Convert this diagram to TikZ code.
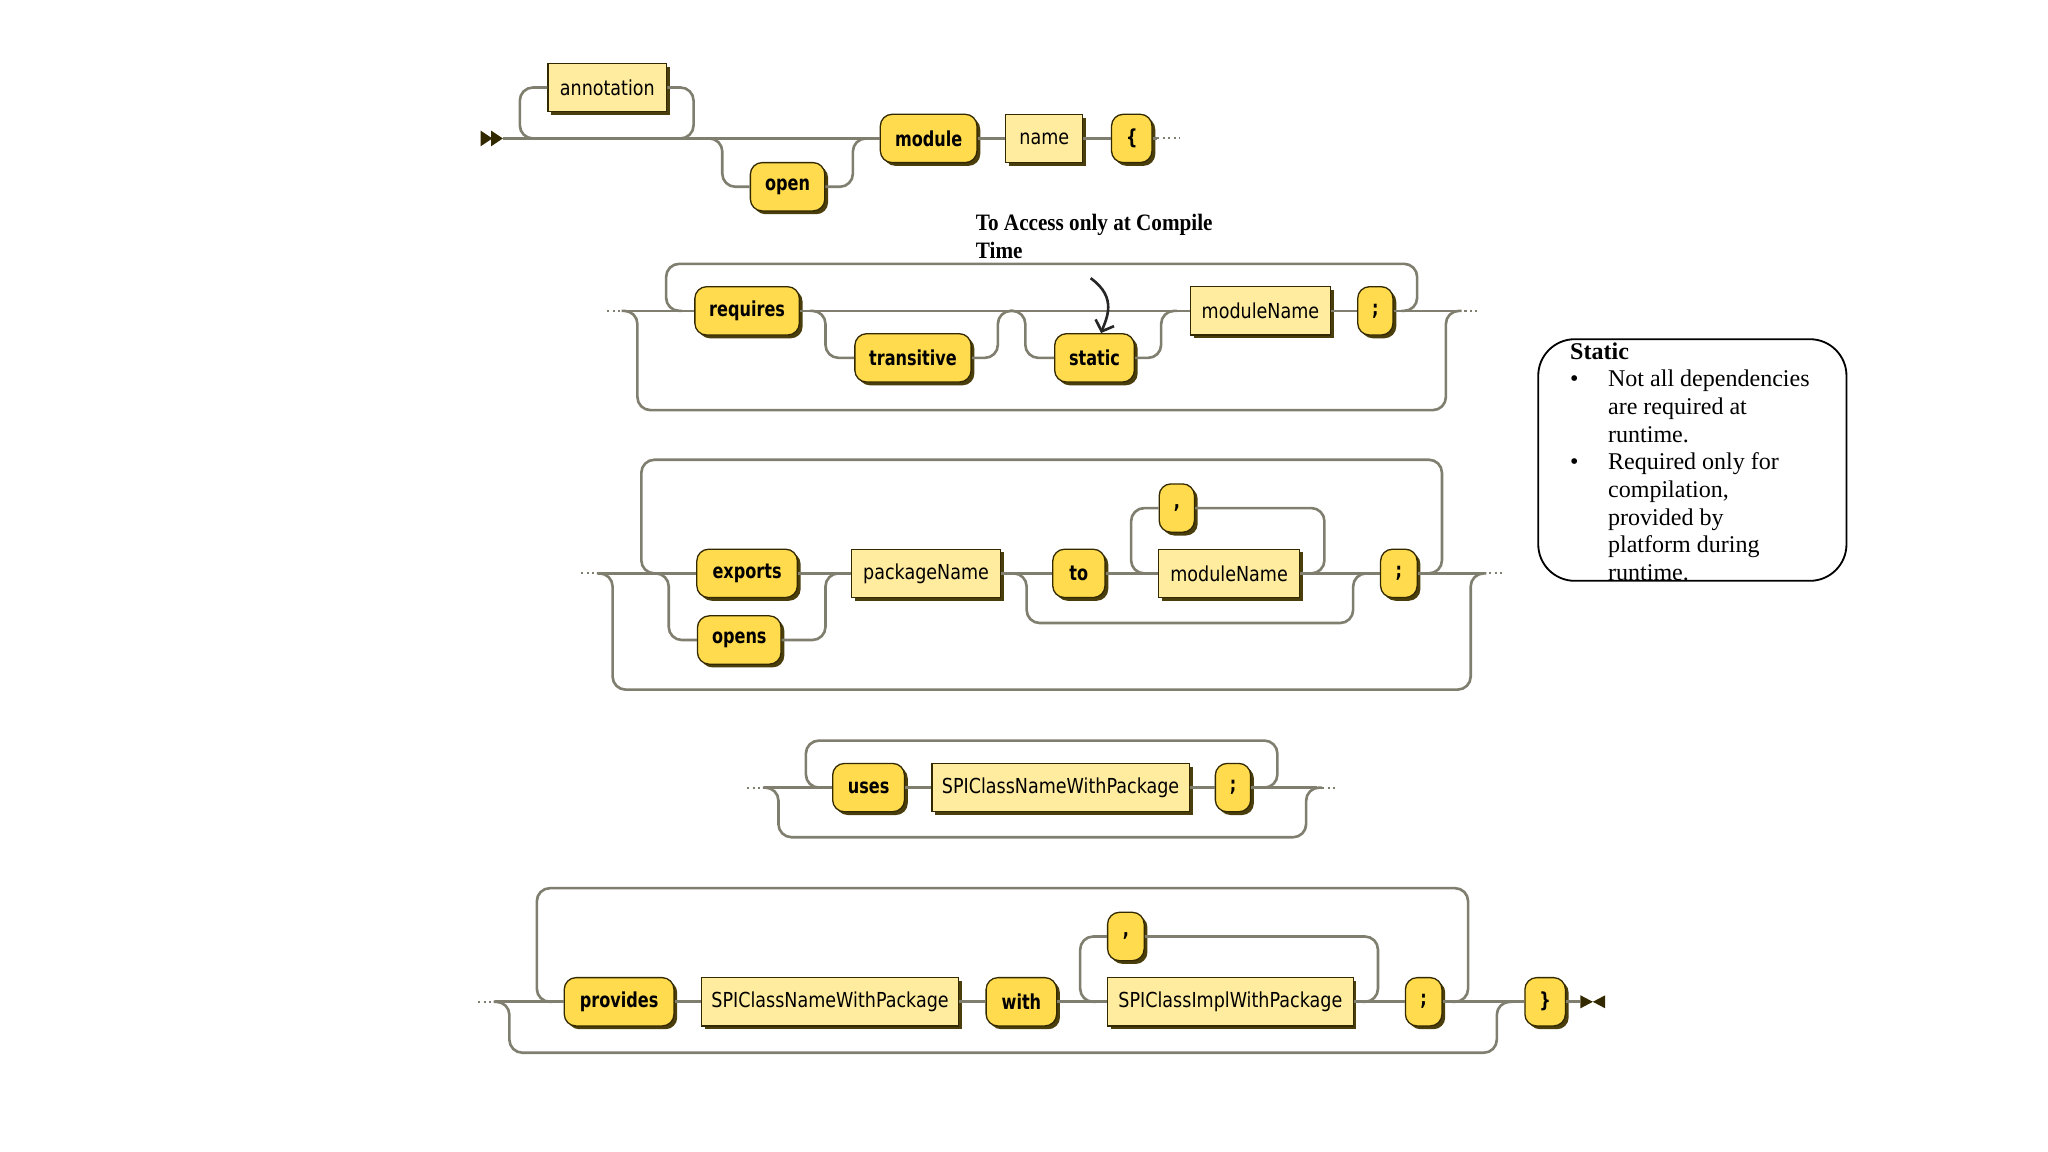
\documentclass[tikz,border=0pt]{standalone}
\usepackage{fontspec}
\usepackage{tikz}
\usetikzlibrary{positioning,shadows,arrows.meta}
\newfontfamily\railkw[FakeStretch=0.78]{DejaVu Sans}
\newfontfamily\railnt[FakeStretch=0.85]{DejaVu Sans}
\newfontfamily\noteserif{Liberation Serif}
\newfontfamily\headserif[FakeStretch=0.9]{Liberation Serif}
\definecolor{railline}{RGB}{128,126,110}
\definecolor{railedge}{RGB}{51,41,0}
\definecolor{termfill}{RGB}{255,219,77}
\definecolor{ntfill}{RGB}{255,236,158}
\definecolor{railshadow}{RGB}{74,62,12}
\tikzset{%
	term/.style    = {draw=railedge, fill=termfill, rounded corners=9pt, line width=1pt,
		minimum height=37pt, inner sep=2pt, font=\railkw\bfseries\fontsize{15.8}{18}\selectfont,
		drop shadow={shadow xshift=2.5pt, shadow yshift=-2.5pt, fill=railshadow, opacity=1}},
	ntbox/.style   = {draw=railedge, fill=ntfill, rectangle, line width=1pt,
		minimum height=37pt, inner sep=2pt, font=\railnt\fontsize{15.8}{18}\selectfont,
		drop shadow={shadow xshift=2.5pt, shadow yshift=-2.5pt, fill=railshadow, opacity=1}},
	rail/.style    = {draw=railline, line width=2pt, rounded corners=10pt},
	raildots/.style = {draw=railline, line width=1.6pt, dash pattern=on 1.6pt off 2.6pt},
	notebox/.style = {draw=black, line width=1.4pt, rounded corners=28pt},
	notetext/.style = {inner sep=0pt, align=left, font=\noteserif\fontsize{18.4}{21.2}\selectfont},
	handarrow/.style = {draw=black!85, line width=2pt, -{Straight Barb[length=7pt,width=15pt]}}
}

\begin{document}
\begin{tikzpicture}[x=1pt, y=-1pt, node distance=20pt, >=Stealth]
	\useasboundingbox (0,0) rectangle (1568,882);

	% module header
	\draw
		node at (465,67)[ntbox, minimum width=91pt, name=annot]{annotation}
		node at (603,143)[term, minimum width=57pt, name=open]{open}
		node at (711,106)[term, minimum width=74pt, name=module]{module}
		node [ntbox, minimum width=59pt, right=21pt of module] (mname) {name}
		node [term, minimum width=31pt, right=21pt of mname] (lbrace) {\{};
	\coordinate (begin) at (385,106);
	\coordinate (annin) at (398,106);
	\coordinate (annout) at (531,106);
	\coordinate (openin) at (553,106);
	\coordinate (openout) at (653,106);
	\coordinate (r1dot) at (886,106);
	\coordinate (r1end) at (903,106);
	\fill[railedge] (368,100) -- (377,106) -- (368,112) -- cycle (376,100) -- (385,106) -- (376,112) -- cycle;
	\draw[rail] (begin) -- (module);
	\draw[rail] (annot.west) -| (annin) -- ++(12,0);
	\draw[rail] (annot.east) -| (annout) -- ++(-12,0);
	\draw[rail] ([xshift=-12pt]openin) -- (openin) |- (open.west);
	\draw[rail] (open.east) -| (openout) -- ++(12,0);
	\draw[rail] (module) -- (mname);
	\draw[rail] (mname) -- (lbrace);
	\draw[rail] (lbrace) -- (r1dot);
	\draw[raildots] (r1dot) -- (r1end);

	% requires
	\draw
		node at (572,238)[term, minimum width=80pt, name=requires]{requires}
		node at (699,274)[term, minimum width=89pt, name=transitive]{transitive}
		node at (838,274)[term, minimum width=61pt, name=static]{static}
		node at (965,238)[ntbox, minimum width=107pt, name=reqmod]{moduleName}
		node [term, minimum width=27pt, right=20pt of reqmod] (reqsemi) {;};
	\node[notetext, anchor=north west, font=\headserif\bfseries\fontsize{18}{21}\selectfont] (compilenote) at (747,164) {To Access only at Compile\\Time};
	\coordinate (arrowtail) at (835,213);
	\coordinate (r2a) at (465,238);
	\coordinate (r2b) at (478,238);
	\coordinate (r2skipL) at (488,238);
	\coordinate (r2skipR) at (1107,238);
	\coordinate (r2loopL) at (510,238);
	\coordinate (r2loopR) at (1085,238);
	\coordinate (transin) at (632,238);
	\coordinate (transout) at (764,238);
	\coordinate (statin) at (785,238);
	\coordinate (statout) at (889,238);
	\coordinate (r2c) at (1117,238);
	\coordinate (r2d) at (1131,238);
	\draw[raildots] (r2a) -- (r2b);
	\draw[rail] (r2b) -- (requires);
	\draw[rail] ([xshift=-12pt]r2skipL) -- (r2skipL) -- ++(0,76) -| (r2skipR) -- ++(12,0);
	\draw[rail] ([xshift=12pt]r2loopL) -- (r2loopL) -- ++(0,-36) -| (r2loopR) -- ++(-12,0);
	\draw[rail] (requires) -- (reqmod);
	\draw[rail] ([xshift=-12pt]transin) -- (transin) |- (transitive.west);
	\draw[rail] (transitive.east) -| (transout) -- ++(12,0);
	\draw[rail] ([xshift=-12pt]statin) -- (statin) |- (static.west);
	\draw[rail] (static.east) -| (statout) -- ++(12,0);
	\draw[rail] (reqmod) -- (reqsemi);
	\draw[rail] (reqsemi) -- (r2c);
	\draw[raildots] (r2c) -- (r2d);
	\draw[handarrow] (arrowtail) .. controls (856,228) and (847,244) .. ([xshift=5pt]static.north);

	% exports / opens
	\draw
		node at (572,439)[term, minimum width=77pt, name=exports]{exports}
		node at (566,490)[term, minimum width=64pt, name=opens]{opens}
		node at (709,439)[ntbox, minimum width=114pt, name=pkgname]{packageName}
		node at (826,439)[term, minimum width=40pt, name=tokw]{to}
		node at (901,389)[term, minimum width=27pt, name=expcomma]{,}
		node at (941,439)[ntbox, minimum width=108pt, name=expmod]{moduleName}
		node at (1071,439)[term, minimum width=28pt, name=expsemi]{;};
	\coordinate (r3a) at (445,439);
	\coordinate (r3b) at (458,439);
	\coordinate (r3skipL) at (469,439);
	\coordinate (r3skipR) at (1126,439);
	\coordinate (r3loopL) at (491,439);
	\coordinate (r3loopR) at (1104,439);
	\coordinate (opensin) at (512,439);
	\coordinate (opensout) at (632,439);
	\coordinate (toin) at (786,439);
	\coordinate (toout) at (1036,439);
	\coordinate (commain) at (866,439);
	\coordinate (commaout) at (1014,439);
	\coordinate (r3c) at (1136,439);
	\coordinate (r3d) at (1150,439);
	\draw[raildots] (r3a) -- (r3b);
	\draw[rail] (r3b) -- (exports);
	\draw[rail] ([xshift=-12pt]r3skipL) -- (r3skipL) -- ++(0,89) -| (r3skipR) -- ++(12,0);
	\draw[rail] ([xshift=12pt]r3loopL) -- (r3loopL) -- ++(0,-87) -| (r3loopR) -- ++(-12,0);
	\draw[rail] ([xshift=-12pt]opensin) -- (opensin) |- (opens.west);
	\draw[rail] (opens.east) -| (opensout) -- ++(12,0);
	\draw[rail] (exports) -- (pkgname);
	\draw[rail] (pkgname) -- (tokw);
	\draw[rail] ([xshift=-12pt]toin) -- (toin) -- ++(0,38) -| (toout) -- ++(12,0);
	\draw[rail] (tokw) -- (expmod);
	\draw[rail] ([xshift=12pt]commain) -- (commain) |- (expcomma.west);
	\draw[rail] (expcomma.east) -| (commaout) -- ++(-12,0);
	\draw[rail] (expmod) -- (expsemi);
	\draw[rail] (expsemi) -- (r3c);
	\draw[raildots] (r3c) -- (r3d);

	% uses
	\draw
		node at (665,603)[term, minimum width=55pt, name=uses]{uses}
		node at (812,603)[ntbox, minimum width=197pt, name=usesname]{SPIClassNameWithPackage}
		node at (944,603)[term, minimum width=27pt, name=usessemi]{;};
	\coordinate (r4a) at (572,603);
	\coordinate (r4b) at (585,603);
	\coordinate (r4skipL) at (596,603);
	\coordinate (r4skipR) at (1000,603);
	\coordinate (r4loopL) at (617,603);
	\coordinate (r4loopR) at (978,603);
	\coordinate (r4c) at (1008,603);
	\coordinate (r4d) at (1024,603);
	\draw[raildots] (r4a) -- (r4b);
	\draw[rail] (r4b) -- (uses);
	\draw[rail] ([xshift=-12pt]r4skipL) -- (r4skipL) -- ++(0,38) -| (r4skipR) -- ++(12,0);
	\draw[rail] ([xshift=12pt]r4loopL) -- (r4loopL) -- ++(0,-36) -| (r4loopR) -- ++(-12,0);
	\draw[rail] (uses) -- (usesname);
	\draw[rail] (usesname) -- (usessemi);
	\draw[rail] (usessemi) -- (r4c);
	\draw[raildots] (r4c) -- (r4d);

	% provides
	\draw
		node at (474,767)[term, minimum width=84pt, name=provides]{provides}
		node [ntbox, minimum width=197pt, right=20pt of provides] (provname) {SPIClassNameWithPackage}
		node [term, minimum width=54pt, right=20pt of provname] (with) {with}
		node at (862,717)[term, minimum width=28pt, name=provcomma]{,}
		node at (942,767)[ntbox, minimum width=188pt, name=implname]{SPIClassImplWithPackage}
		node at (1090,767)[term, minimum width=28pt, name=provsemi]{;}
		node at (1183,767)[term, minimum width=31pt, name=rbrace]{\}};
	\coordinate (r5a) at (366,767);
	\coordinate (r5b) at (379,767);
	\coordinate (r5skipL) at (390,767);
	\coordinate (r5skipR) at (1146,767);
	\coordinate (r5loopL) at (411,767);
	\coordinate (r5loopR) at (1124,767);
	\coordinate (implin) at (827,767);
	\coordinate (implout) at (1055,767);
	\coordinate (stop) at (1210,767);
	\draw[raildots] (r5a) -- (r5b);
	\draw[rail] (r5b) -- (provides);
	\draw[rail] ([xshift=-12pt]r5skipL) -- (r5skipL) -- ++(0,39) -| (r5skipR) -- ++(12,0);
	\draw[rail] ([xshift=12pt]r5loopL) -- (r5loopL) -- ++(0,-87) -| (r5loopR) -- ++(-12,0);
	\draw[rail] (provides) -- (provname);
	\draw[rail] (provname) -- (with);
	\draw[rail] (with) -- (implname);
	\draw[rail] ([xshift=12pt]implin) -- (implin) |- (provcomma.west);
	\draw[rail] (provcomma.east) -| (implout) -- ++(-12,0);
	\draw[rail] (implname) -- (provsemi);
	\draw[rail] (provsemi) -- (rbrace);
	\draw[rail] (rbrace) -- (stop);
	\fill[railedge] (1210,762) -- (1219.5,767) -- (1210,772) -- cycle (1229,762) -- (1219.5,767) -- (1229,772) -- cycle;

	% static note
	\node[notebox, anchor=north west, minimum width=236pt, minimum height=185pt] (staticbox) at (1177,259) {};
	\node[notetext, anchor=north west] (staticnote) at (1202,262) {\textbf{Static}\\
		\makebox[29pt][l]{•}Not all dependencies\\
		\hspace*{29pt}are required at\\
		\hspace*{29pt}runtime.\\
		\makebox[29pt][l]{•}Required only for\\
		\hspace*{29pt}compilation,\\
		\hspace*{29pt}provided by\\
		\hspace*{29pt}platform during\\
		\hspace*{29pt}runtime.};
\end{tikzpicture}
\end{document}
